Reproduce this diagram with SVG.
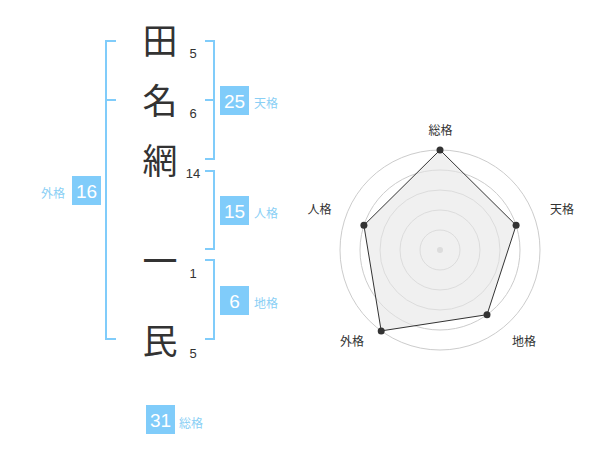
<svg xmlns="http://www.w3.org/2000/svg" width="600" height="470" viewBox="0 0 600 470">
<style>
.kanji{font-family:"Noto Sans CJK JP","Noto Sans CJK SC",sans-serif;font-size:35px;fill:#333;text-anchor:middle}
.stroke{font-family:"Liberation Sans",Arial,sans-serif;font-size:13px;fill:#333;text-anchor:middle}
.br{fill:none;stroke:#80ccfa;stroke-width:2}
.box{fill:#80ccfa}
.num{font-family:"Liberation Sans",Arial,sans-serif;font-size:19px;fill:#fff;text-anchor:middle}
.lbl{font-family:"Noto Sans CJK JP","Noto Sans CJK SC",sans-serif;font-size:12px;fill:#8acff5}
.ring{fill:none;stroke:#cccccc;stroke-width:1}
.axis{font-family:"Noto Sans CJK JP","Noto Sans CJK SC",sans-serif;font-size:12px;fill:#333;text-anchor:middle}
.pt{fill:#333}
</style>
<rect width="600" height="470" fill="#fff"/>
<g id="name">
<g id="char1"><text class="kanji" x="160" y="53.5">田</text><text class="stroke" x="193" y="57.5">5</text></g>
<g id="char2"><text class="kanji" x="160" y="113.5">名</text><text class="stroke" x="193" y="117.5">6</text></g>
<g id="char3"><text class="kanji" x="160" y="173.5">網</text><text class="stroke" x="193" y="177.5">14</text></g>
<g id="char4"><text class="kanji" x="160" y="273.5">一</text><text class="stroke" x="193" y="277.5">1</text></g>
<g id="char5"><text class="kanji" x="160" y="353.5">民</text><text class="stroke" x="193" y="357.5">5</text></g>
</g>
<g id="connectors">
<path class="br" d="M116,41 H106 V339 H116 M106,100 H116"/>
<path class="br" d="M205,41 H214 V159 H205 M214,100 H205"/>
<path class="br" d="M205,171 H214 V249 H205"/>
<path class="br" d="M205,260 H214 V339 H205"/>
</g>
<g id="tenkaku"><rect class="box" x="220" y="86" width="29" height="29"/><text class="num" x="234.5" y="107.5">25</text><text class="lbl" x="254" y="108">天格</text></g>
<g id="jinkaku"><rect class="box" x="220" y="196" width="29" height="29"/><text class="num" x="234.5" y="217.5">15</text><text class="lbl" x="254" y="218">人格</text></g>
<g id="chikaku"><rect class="box" x="220" y="286" width="29" height="29"/><text class="num" x="234.5" y="307.5">6</text><text class="lbl" x="254" y="308">地格</text></g>
<g id="gaikaku"><rect class="box" x="72" y="176" width="29" height="29"/><text class="num" x="86.5" y="197.5">16</text><text class="lbl" x="41" y="198">外格</text></g>
<g id="soukaku"><rect class="box" x="146" y="405" width="29" height="29"/><text class="num" x="160.5" y="426.5">31</text><text class="lbl" x="179" y="428">総格</text></g>
<g id="radar">
<circle class="ring" cx="440" cy="250" r="20"/>
<circle class="ring" cx="440" cy="250" r="40"/>
<circle class="ring" cx="440" cy="250" r="60"/>
<circle class="ring" cx="440" cy="250" r="80"/>
<circle class="ring" cx="440" cy="250" r="100"/>
<circle cx="440" cy="250" r="3" fill="#cccccc"/>
<polygon points="440,150 516.1,225.3 487,314.7 381.2,330.9 363.9,225.3" fill="#e6e6e6" fill-opacity="0.6" stroke="#333" stroke-width="1"/>
<circle class="pt" cx="440" cy="150" r="3.5"/>
<circle class="pt" cx="516.1" cy="225.3" r="3.5"/>
<circle class="pt" cx="487" cy="314.7" r="3.5"/>
<circle class="pt" cx="381.2" cy="330.9" r="3.5"/>
<circle class="pt" cx="363.9" cy="225.3" r="3.5"/>
<text class="axis" x="440.5" y="135">総格</text>
<text class="axis" x="562" y="213.5">天格</text>
<text class="axis" x="524" y="346">地格</text>
<text class="axis" x="352" y="346">外格</text>
<text class="axis" x="319.5" y="213.5">人格</text>
</g>
</svg>
